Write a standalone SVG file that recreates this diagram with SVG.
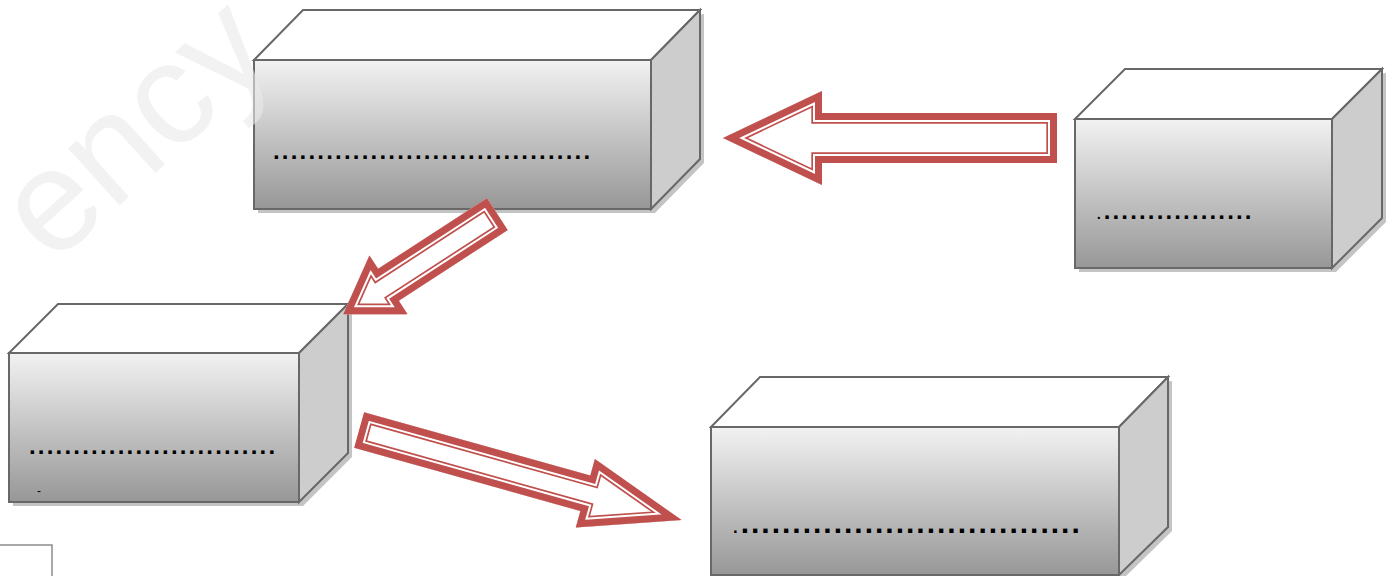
<svg xmlns="http://www.w3.org/2000/svg" xmlns:xlink="http://www.w3.org/1999/xlink" width="1395" height="576" viewBox="0 0 1395 576">
<defs>
<linearGradient id="frontGrad" x1="0" y1="0" x2="0" y2="1">
<stop offset="0" stop-color="#f2f2f2"/>
<stop offset="1" stop-color="#979797"/>
</linearGradient>
<path id="arrA" d="M0,-25 L235,-25 L235,-47 L334,0 L235,47 L235,25 L0,25 Z"/>
<path id="arrB" d="M0,-19 L130,-19 L130,-35 L184,0 L130,35 L130,19 L0,19 Z"/>
<path id="arrC" d="M0,-18.5 L235,-18.5 L235,-35.5 L335,0 L235,35.5 L235,18.5 L0,18.5 Z"/>
<clipPath id="clipA"><use xlink:href="#arrA"/></clipPath>
<clipPath id="clipB"><use xlink:href="#arrB"/></clipPath>
<clipPath id="clipC"><use xlink:href="#arrC"/></clipPath>
</defs>
<style>
.shadow{fill:#c4c4c4;stroke:none}
.front{fill:url(#frontGrad);stroke:#686868;stroke-width:2;stroke-linejoin:miter}
.top{fill:#ffffff;stroke:#686868;stroke-width:2;stroke-linejoin:miter}
.side{fill:#cdcdcd;stroke:#686868;stroke-width:2;stroke-linejoin:miter}
.dots{font-family:"Liberation Sans",Arial,sans-serif;font-weight:bold;fill:#000}
.a0{fill:#ffffff;stroke:none}
.a1{fill:none;stroke:#c0504d;stroke-width:21.4;stroke-linejoin:miter}
.a2{fill:none;stroke:#ffffff;stroke-width:18;stroke-linejoin:miter}
.a3{fill:none;stroke:#c0504d;stroke-width:14;stroke-linejoin:miter}
.wm{font-family:"Liberation Sans",Arial,sans-serif;font-size:145px;fill:#e9e9e9;fill-opacity:0.6}
</style>
<rect x="0" y="0" width="1395" height="576" fill="#ffffff"/>

<g id="box-top">
<polygon class="shadow" points="258,64 258,213 655,213 704,163 704,14"/>
<polygon class="top" points="254,60 303,10 700,10 651,60"/>
<polygon class="side" points="651,60 700,10 700,159 651,209"/>
<rect class="front" x="254" y="60" width="397" height="149"/>
<text class="dots" x="273" y="159" font-size="24" letter-spacing="2.2">....................................</text>
</g>

<g id="box-right">
<polygon class="shadow" points="1079,123 1079,272 1336,272 1386,222 1386,73"/>
<polygon class="top" points="1075,119 1125,69 1382,69 1332,119"/>
<polygon class="side" points="1332,119 1382,69 1382,218 1332,268"/>
<rect class="front" x="1075" y="119" width="257" height="149"/>
<text class="dots" x="1096" y="219" font-size="24" letter-spacing="2.15"><tspan font-weight="normal" font-size="20">.</tspan>.................</text>
</g>

<g id="box-left">
<polygon class="shadow" points="13,357 13,506 303,506 352,457 352,308"/>
<polygon class="top" points="9,353 58,304 348,304 299,353"/>
<polygon class="side" points="299,353 348,304 348,453 299,502"/>
<rect class="front" x="9" y="353" width="290" height="149"/>
<text class="dots" x="29" y="454" font-size="24" letter-spacing="2.2">............................</text>
<text x="37" y="495" font-family="'Liberation Sans',Arial,sans-serif" font-size="12" fill="#000">-</text>
</g>

<g id="box-bottom">
<polygon class="shadow" points="715,431 715,579 1123,579 1172,531 1172,381"/>
<polygon class="top" points="711,427 760,377 1168,377 1119,427"/>
<polygon class="side" points="1119,427 1168,377 1168,527 1119,575"/>
<rect class="front" x="711" y="427" width="408" height="148"/>
<text class="dots" x="732" y="533" font-size="30" letter-spacing="2.0"><tspan font-weight="normal" font-size="24">.</tspan>.................................</text>
</g>

<g id="connectors">
<g transform="translate(1057,138) rotate(180)">
<g clip-path="url(#clipA)">
<use xlink:href="#arrA" class="a0"/>
<use xlink:href="#arrA" class="a1"/>
<use xlink:href="#arrA" class="a2"/>
<use xlink:href="#arrA" class="a3"/>
</g>
</g>
<g transform="translate(497.5,214) rotate(147)">
<g clip-path="url(#clipB)">
<use xlink:href="#arrB" class="a0"/>
<use xlink:href="#arrB" class="a1"/>
<use xlink:href="#arrB" class="a2"/>
<use xlink:href="#arrB" class="a3"/>
</g>
</g>
<g transform="translate(359,430) rotate(15.6)">
<g clip-path="url(#clipC)">
<use xlink:href="#arrC" class="a0"/>
<use xlink:href="#arrC" class="a1"/>
<use xlink:href="#arrC" class="a2"/>
<use xlink:href="#arrC" class="a3"/>
</g>
</g>
</g>

<path d="M-2,545 L52,545 L52,578" fill="none" stroke="#8c8c8c" stroke-width="1.5"/>

<text class="wm" transform="translate(52,266) rotate(-42)">ency</text>
</svg>
